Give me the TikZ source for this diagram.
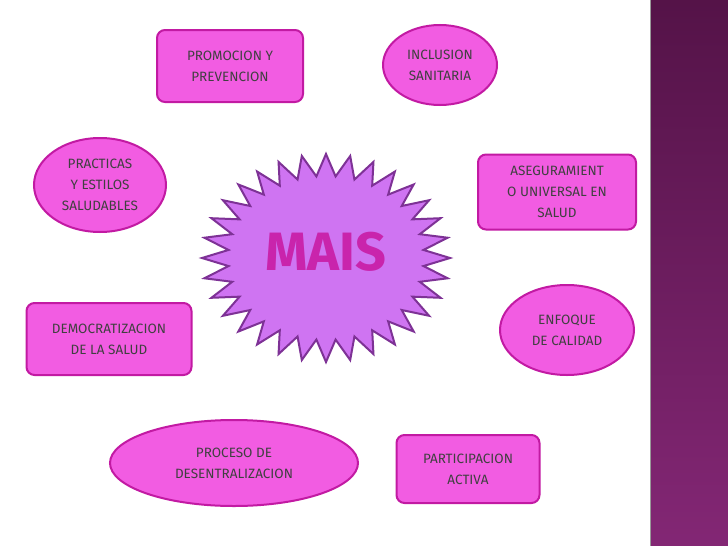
\documentclass[tikz,border=0pt]{standalone}
\usepackage{fontspec}
\setmainfont{Fira Sans}
\usetikzlibrary{shapes.geometric}
\definecolor{pk}{HTML}{F25CE2}
\definecolor{pkd}{HTML}{C21AA3}
\definecolor{vi}{HTML}{CF74F2}
\definecolor{vid}{HTML}{7E3296}
\definecolor{stripe}{HTML}{5E1550}
\begin{document}
\begin{tikzpicture}[x=1pt,y=-1pt,
  box/.style={draw=pkd,fill=pk,line width=2pt,rounded corners=8pt,align=center,font=\fontsize{13.5}{21}\selectfont,text=black!75,inner sep=2pt},
  ell/.style={draw=pkd,fill=pk,line width=2pt,ellipse,align=center,font=\fontsize{13.5}{21}\selectfont,text=black!75,inner sep=0pt}]
\useasboundingbox (0,0) rectangle (728,546);
\fill[white] (0,0) rectangle (728,546);
\shade[top color=stripe!90!black,bottom color=stripe!75!pk] (650,0) rectangle (728,546);
\draw[black!40,line width=1pt] (650,0) -- (650,546);
% star
\draw[vid,fill=vi,line width=2pt,line join=miter]
  (326+124,258)
  \foreach \i in {1,...,31}{
    -- ({326+98*cos((2*\i-1)*5.625)},{258+82*sin((2*\i-1)*5.625)})
    -- ({326+124*cos(2*\i*5.625)},{258+104*sin(2*\i*5.625)})
  }
  -- ({326+98*cos(354.375)},{258+82*sin(354.375)}) -- cycle;
\node (m) at (326,252) {\fontsize{54}{54}\selectfont\bfseries\color{pkd!85!pk}MAIS};
\node[box,minimum width=146,minimum height=72] (pp) at (230,66) {PROMOCION Y\\PREVENCION};
\node[ell,minimum width=114,minimum height=80] (is) at (440,65) {INCLUSION\\SANITARIA};
\node[ell,minimum width=132,minimum height=94] (pe) at (100,185) {PRACTICAS\\Y ESTILOS\\SALUDABLES};
\node[box,minimum width=158,minimum height=75] (as) at (557,192) {ASEGURAMIENT\\O UNIVERSAL EN\\SALUD};
\node[box,minimum width=165,minimum height=72] (de) at (109,339) {DEMOCRATIZACION\\DE LA SALUD};
\node[ell,minimum width=134,minimum height=90] (ec) at (567,330) {ENFOQUE\\DE CALIDAD};
\node[ell,minimum width=248,minimum height=86] (pd) at (234,463) {PROCESO DE\\DESENTRALIZACION};
\node[box,minimum width=143,minimum height=68] (pa) at (468,469) {PARTICIPACION\\ACTIVA};
\end{tikzpicture}
\end{document}
